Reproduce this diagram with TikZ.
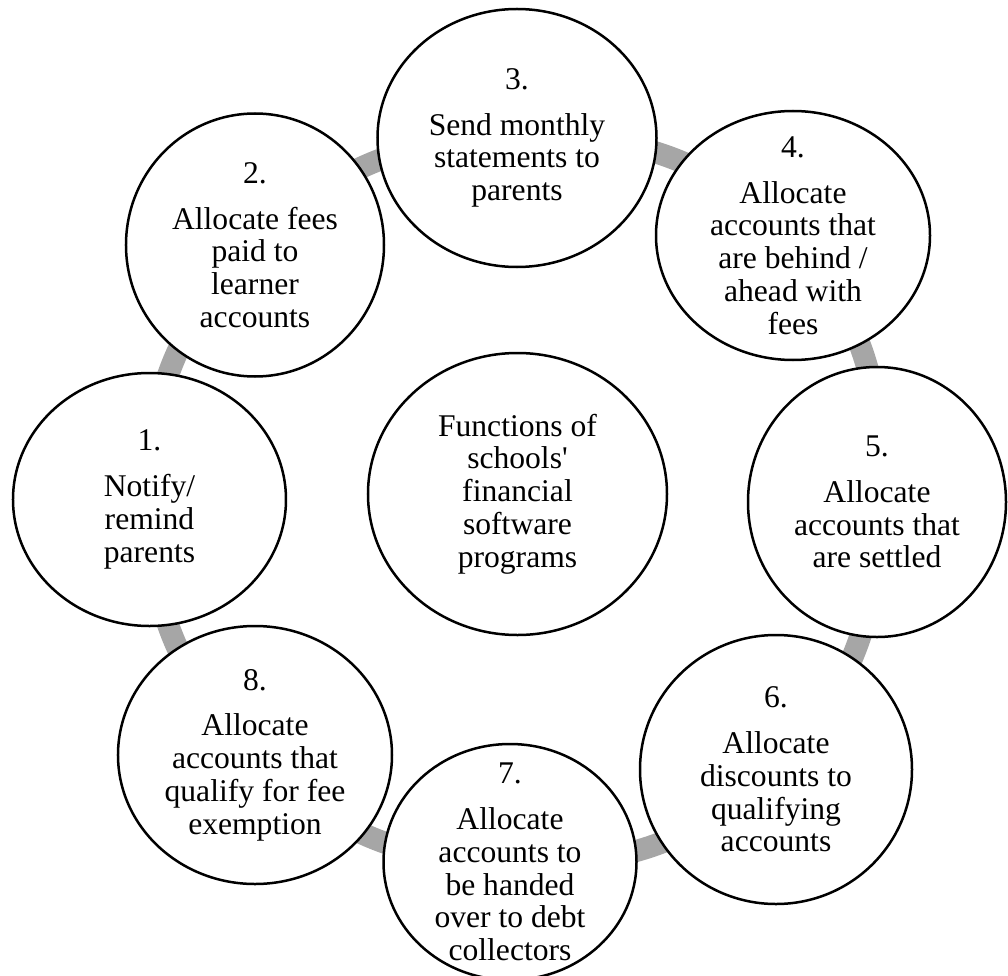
\documentclass[tikz,border=0pt]{standalone}
\usepackage{fontspec}
\setmainfont{Liberation Serif}
\usetikzlibrary{shapes.geometric,backgrounds}
\definecolor{linkgray}{RGB}{166,166,166}
\tikzset{
	bubble/.style={draw,ellipse,line width=2.5pt,fill=white,inner sep=0pt},
	txt/.style={align=center,font=\fontsize{31.6}{32.8}\selectfont},
	link/.style={draw=linkgray,line width=22pt}
}

\begin{document}
\begin{tikzpicture}[x=1pt,y=1pt]
			\useasboundingbox (-517.5,-481) rectangle (490.5,494);
			\node[bubble,minimum width=299pt,minimum height=282pt,label={[txt]center:{Functions of\\schools\textquotesingle\\financial\\software\\programs}}] (hub) at (0,0) {};
			\node[bubble,minimum width=273pt,minimum height=253pt,label={[txt]center:{1.\\[13pt]Notify/\\remind\\parents}}] (n1) at (-368,-5.5) {};
			\node[bubble,minimum width=258pt,minimum height=263pt,label={[txt]center:{2.\\[13pt]Allocate fees\\paid to\\learner\\accounts}}] (n2) at (-262.5,249) {};
			\node[bubble,minimum width=279pt,minimum height=258pt,label={[txt]center:{3.\\[13pt]Send monthly\\statements to\\parents}}] (n3) at (-0.5,356) {};
			\node[bubble,minimum width=274pt,minimum height=249pt,label={[txt]center:{4.\\[13pt]Allocate\\accounts that\\are behind /\\ahead with\\fees}}] (n4) at (275.5,258.5) {};
			\node[bubble,minimum width=258pt,minimum height=270pt,label={[txt]center:{5.\\[13pt]Allocate\\accounts that\\are settled}}] (n5) at (359.5,-8) {};
			\node[bubble,minimum width=272pt,minimum height=269pt,label={[txt]center:{6.\\[13pt]Allocate\\discounts to\\qualifying\\accounts}}] (n6) at (258.5,-275.5) {};
			\node[bubble,minimum width=253pt,minimum height=236pt,label={[txt]center:{7.\\[13pt]Allocate\\accounts to\\be handed\\over to debt\\collectors}}] (n7) at (-7.5,-368) {};
			\node[bubble,minimum width=274pt,minimum height=258pt,label={[txt]center:{8.\\[13pt]Allocate\\accounts that\\qualify for fee\\exemption}}] (n8) at (-262.5,-261) {};
			
			\begin{scope}[on background layer]
				\draw[link] (n1.center) to[bend left=22.5] (n2.center);
				\draw[link] (n2.center) to[bend left=22.5] (n3.center);
				\draw[link] (n3.center) to[bend left=22.5] (n4.center);
				\draw[link] (n4.center) to[bend left=22.5] (n5.center);
				\draw[link] (n5.center) to[bend left=22.5] (n6.center);
				\draw[link] (n6.center) to[bend left=22.5] (n7.center);
				\draw[link] (n7.center) to[bend left=22.5] (n8.center);
				\draw[link] (n8.center) to[bend left=22.5] (n1.center);
			\end{scope}
		\end{tikzpicture}
\end{document}
